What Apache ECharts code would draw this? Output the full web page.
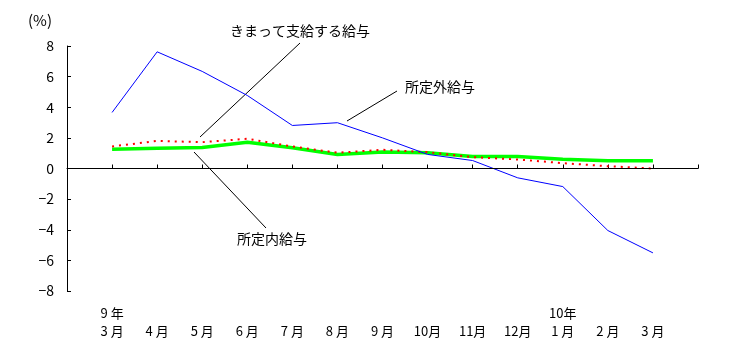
<!DOCTYPE html>
<html><head><meta charset="utf-8">
<script src="https://cdn.jsdelivr.net/npm/echarts@6/dist/echarts.min.js"></script>
<style>html,body{margin:0;padding:0;background:#fff}#c{width:733px;height:362px}</style>
</head><body><div id="c"></div>
<script>
const categories = ['', '9 年\n3 月', '4 月', '5 月', '6 月', '7 月', '8 月', '9 月', '10月', '11月', '12月', '10年\n1 月', '2 月', '3 月', ''];
const shoteigai = [null, 3.66, 7.62, 6.34, 4.77, 2.81, 2.99, 2.0, 0.92, 0.52, -0.61, -1.18, -4.05, -5.51, null];
const kimatte = [null, 1.44, 1.8, 1.72, 1.94, 1.44, 1.03, 1.22, 1.07, 0.74, 0.59, 0.35, 0.15, 0.0, null];
const shoteinai = [null, 1.26, 1.33, 1.37, 1.72, 1.35, 0.92, 1.07, 1.03, 0.78, 0.78, 0.61, 0.5, 0.5, null];
const yTicks = [-8, -6, -4, -2, 0, 2, 4, 6, 8];

const font = '"Noto Sans CJK JP", sans-serif';
const chart = echarts.init(document.getElementById('c'), null, {renderer: 'canvas'});
chart.setOption({
  animation: false,
  backgroundColor: '#fff',
  grid: {left: 67, right: 35, top: 46, bottom: 71},
  xAxis: {
    type: 'category', data: categories, boundaryGap: false,
    axisLine: {lineStyle: {color: '#000', width: 1}},
    axisTick: {inside: true, length: 4, lineStyle: {color: '#000'}},
    axisLabel: {
      margin: 13, color: '#000', fontSize: 13, fontFamily: font, lineHeight: 18,
      verticalAlign: 'top',
      formatter: v => v.indexOf('\n') >= 0 ? v : '\n' + v
    },
    splitLine: {show: false}
  },
  yAxis: {
    type: 'value', min: yTicks[0], max: yTicks[yTicks.length - 1], interval: 2,
    axisLine: {show: true, lineStyle: {color: '#000', width: 1}},
    axisTick: {show: true, inside: true, length: 4, lineStyle: {color: '#000'}},
    axisLabel: {color: '#000', fontSize: 14, fontFamily: font, margin: 13,
      formatter: v => (v < 0 ? '\u2212' + Math.abs(v) : String(v))},
    splitLine: {show: false}
  },
  series: [
    {name: '所定内給与', type: 'line', data: shoteinai, symbol: 'none', z: 2,
      lineStyle: {color: '#00FF00', width: 3.5},
      markLine: {silent: true, symbol: 'none', label: {show: false},
        lineStyle: {color: '#000', width: 1, type: 'solid'}, data: [{yAxis: 0}]}},
    {name: 'きまって支給する給与', type: 'line', data: kimatte, symbol: 'none', z: 3,
      lineStyle: {color: '#FF0000', width: 2, type: [2, 5]}},
    {name: '所定外給与', type: 'line', data: shoteigai, symbol: 'none', z: 4,
      lineStyle: {color: '#0000FF', width: 1}}
  ],
  graphic: [
    {type: 'text', left: 28, top: 13, style: {text: '(%)', font: '15px ' + font, fill: '#000'}},
    {type: 'text', left: 230, top: 24, style: {text: 'きまって支給する給与', font: '14px ' + font, fill: '#000'}},
    {type: 'line', shape: {x1: 200, y1: 137, x2: 300, y2: 43}, style: {stroke: '#000', lineWidth: 1}},
    {type: 'text', left: 405, top: 80, style: {text: '所定外給与', font: '14px ' + font, fill: '#000'}},
    {type: 'line', shape: {x1: 347, y1: 121, x2: 397, y2: 91}, style: {stroke: '#000', lineWidth: 1}},
    {type: 'text', left: 237, top: 232, style: {text: '所定内給与', font: '14px ' + font, fill: '#000'}},
    {type: 'line', shape: {x1: 194, y1: 152, x2: 266, y2: 228}, style: {stroke: '#000', lineWidth: 1}}
  ]
});
</script></body></html>
